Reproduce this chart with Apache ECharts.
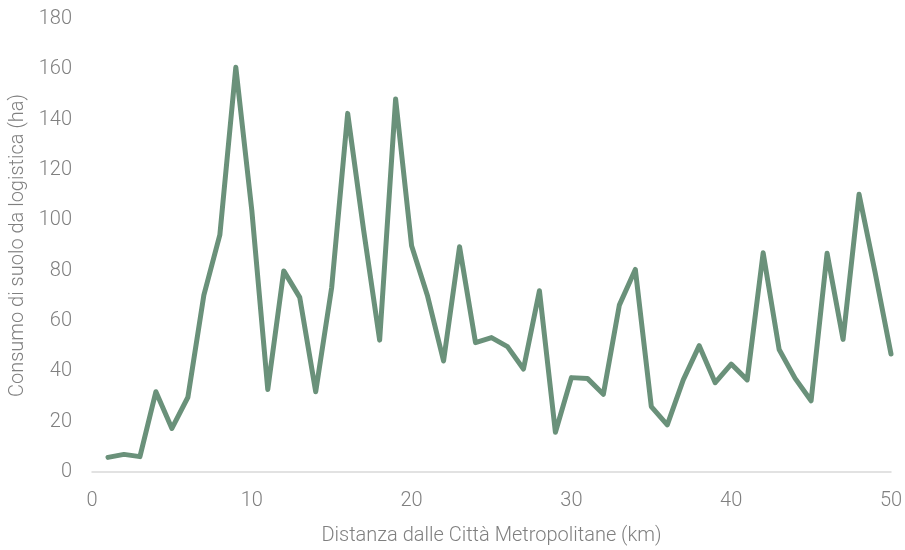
<!DOCTYPE html>
<html><head><meta charset="utf-8">
<script src="https://cdn.jsdelivr.net/npm/echarts@6/dist/echarts.min.js"></script>
<style>html,body{margin:0;padding:0;background:#fff}#c{width:905px;height:550px}</style>
</head><body><div id="c"></div>
<script>
const distances = [1,2,3,4,5,6,7,8,9,10,11,12,13,14,15,16,17,18,19,20,21,22,23,24,25,26,27,28,29,30,31,32,33,34,35,36,37,38,39,40,41,42,43,44,45,46,47,48,49,50];
const consumo = [5.8,7.0,6.1,31.9,17.3,29.7,70.3,94.2,160.8,104,32.8,79.9,69.4,31.9,73.4,142.5,96,52.4,148.2,89.9,69.9,44.1,89.5,51.4,53.4,49.8,40.9,72.0,15.8,37.5,37.2,30.9,66.3,80.5,26,18.7,36.6,50.2,35.5,42.9,36.6,87.1,48.7,37.2,28.3,86.9,52.7,110.4,79.5,46.9];
const xTitle = 'Distanza dalle Città Metropolitane (km)';
const yTitle = 'Consumo di suolo da logistica (ha)';
const font = 'Roboto, sans-serif';
const txt = {color: '#808080', fontSize: 20, fontFamily: font, fontWeight: 300};
const chart = echarts.init(document.getElementById('c'));
chart.setOption({
  animation: false,
  grid: {left: 92, right: 14, top: 19, bottom: 78, containLabel: false, outerBoundsMode: 'none'},
  xAxis: {
    type: 'value', min: 0, max: 50, interval: 10,
    name: xTitle, nameLocation: 'middle', nameGap: 54,
    nameTextStyle: txt,
    axisLine: {show: true, lineStyle: {color: '#d9d9d9', width: 1.5}},
    axisTick: {show: false}, splitLine: {show: false},
    axisLabel: Object.assign({margin: 19}, txt)
  },
  yAxis: {
    type: 'value', min: 0, max: 180, interval: 20,
    name: yTitle, nameLocation: 'middle', nameGap: 63,
    nameTextStyle: txt,
    axisLine: {show: false}, axisTick: {show: false}, splitLine: {show: false},
    axisLabel: Object.assign({margin: 20}, txt)
  },
  series: [{
    type: 'line', data: distances.map((d,i)=>[d, consumo[i]]),
    showSymbol: false, symbol: 'none',
    lineStyle: {color: '#6a917a', width: 5, cap: 'round', join: 'round'}
  }]
});
</script></body></html>
